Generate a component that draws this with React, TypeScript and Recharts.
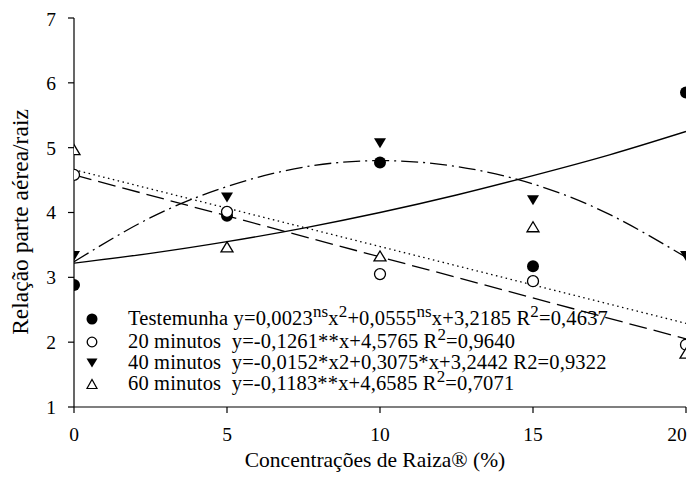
import { ComposedChart, Scatter, Line, XAxis, YAxis, Label } from "recharts";

const doses = [0, 5, 10, 15, 20];
const testemunha = [2.88, 3.95, 4.77, 3.17, 5.85];
const min20 = [4.58, 4.01, 3.05, 2.94, 1.96];
const min40 = [3.33, 4.23, 5.07, 4.19, 3.33];
const min60 = [4.97, 3.47, 3.33, 3.78, 1.83];

// fitted curves
const fitX = [0, 2.5, 5, 7.5, 10, 12.5, 15, 17.5, 20];
const fitTestemunha = [3.22, 3.37, 3.55, 3.76, 4.0, 4.27, 4.57, 4.89, 5.25];
const fit40 = [3.24, 3.92, 4.4, 4.7, 4.8, 4.71, 4.44, 3.97, 3.31];
const fit20X = [0, 20];
const fit20 = [4.58, 2.05];
const fit60X = [0, 20];
const fit60 = [4.66, 2.29];

const xTicks = [0, 5, 10, 15, 20];
const yTicks = [1, 2, 3, 4, 5, 6, 7];

const FONT = "'Liberation Serif', 'Times New Roman', serif";

const pts = (xs: number[], ys: number[]) => xs.map((x, i) => ({ x, y: ys[i] }));

const FilledCircle = (p: any) => <circle cx={p.cx} cy={p.cy} r={6} fill="#000" />;
const OpenCircle = (p: any) => (
  <circle cx={p.cx} cy={p.cy} r={5.5} fill="#fff" stroke="#000" strokeWidth={1.3} />
);
const DownTri = (p: any) => (
  <path d={`M${p.cx - 6},${p.cy - 5}L${p.cx + 6},${p.cy - 5}L${p.cx},${p.cy + 5}Z`} fill="#000" />
);
const UpTri = (p: any) => (
  <path
    d={`M${p.cx - 6},${p.cy + 5}L${p.cx + 6},${p.cy + 5}L${p.cx},${p.cy - 5}Z`}
    fill="#fff"
    stroke="#000"
    strokeWidth={1.3}
  />
);

// last label sits against the page edge in the original
const XTick = (p: any) => {
  const last = p.payload.value === 20;
  return (
    <text
      x={p.x + (last ? -9 : 0)}
      y={p.y}
      dy="0.71em"
      textAnchor="middle"
      fontFamily={FONT}
      fontSize={19.5}
      fill="#000"
    >
      {p.payload.value}
    </text>
  );
};

const sup = {
  fontSize: 17,
  lineHeight: 0,
  verticalAlign: "baseline",
  position: "relative" as const,
  top: -8,
};

function LegendBlock() {
  const rows = [
    {
      mark: <circle cx={7} cy={7} r={5.5} fill="#000" />,
      text: (
        <>
          Testemunha y=0,0023<span style={sup}>ns</span>x<span style={sup}>2</span>+0,0555
          <span style={sup}>ns</span>x+3,2185 R<span style={sup}>2</span>=0,4637
        </>
      ),
    },
    {
      mark: <circle cx={7} cy={7} r={4.8} fill="#fff" stroke="#000" strokeWidth={1.3} />,
      text: (
        <>
          20 minutos&nbsp; y=-0,1261**x+4,5765 R<span style={sup}>2</span>=0,9640
        </>
      ),
    },
    {
      mark: <path d="M1.5,2.5L12.5,2.5L7,11.5Z" fill="#000" />,
      text: <>40 minutos&nbsp; y=-0,0152*x2+0,3075*x+3,2442 R2=0,9322</>,
    },
    {
      mark: <path d="M2,11.5L12,11.5L7,2.5Z" fill="#fff" stroke="#000" strokeWidth={1.2} />,
      text: (
        <>
          60 minutos&nbsp; y=-0,1183**x+4,6585 R<span style={sup}>2</span>=0,7071
        </>
      ),
    },
  ];
  const tops = [300, 323, 344, 365];
  return (
    <>
      {rows.map((r, i) => (
        <div key={i} style={{ position: "absolute", left: 77, top: tops[i], height: 20 }}>
          <svg width={14} height={14} style={{ position: "absolute", left: 0, top: 4 }}>
            {r.mark}
          </svg>
          <div
            style={{
              position: "absolute",
              left: 43,
              top: 0,
              whiteSpace: "nowrap",
              fontFamily: FONT,
              fontSize: 20.5,
              letterSpacing: 0.15,
              lineHeight: "20px",
              color: "#000",
            }}
          >
            {r.text}
          </div>
        </div>
      ))}
    </>
  );
}

export default function App() {
  const tickStyle = { fontFamily: FONT, fontSize: 19.5, fill: "#000" };
  return (
    <div style={{ position: "relative", width: 687, height: 471 }}>
      <ComposedChart
        width={687}
        height={471}
        margin={{ top: 10, right: 9, bottom: 0, left: 0 }}
        style={{ overflow: "visible" }}
      >
        <XAxis
          type="number"
          dataKey="x"
          domain={[0, 20]}
          ticks={xTicks}
          allowDataOverflow
          height={72}
          tick={XTick}
          tickSize={6}
          tickMargin={14}
          stroke="#000"
          axisLine={{ stroke: "#000", strokeWidth: 1.2 }}
          tickLine={{ stroke: "#000", strokeWidth: 1.2 }}
        >
          <Label
            content={() => (
              <text x={367} y={459} textAnchor="middle" fontFamily={FONT} fontSize={21.5} fill="#000">
                Concentrações de Raiza® (%)
              </text>
            )}
          />
        </XAxis>
        <YAxis
          type="number"
          domain={[1, 7]}
          ticks={yTicks}
          allowDataOverflow
          width={66}
          tick={tickStyle}
          tickSize={6}
          tickMargin={12}
          stroke="#000"
          axisLine={{ stroke: "#000", strokeWidth: 1.2 }}
          tickLine={{ stroke: "#000", strokeWidth: 1.2 }}
        >
          <Label
            content={() => (
              <text
                x={20}
                y={214}
                transform="rotate(-90 20 214)"
                textAnchor="middle"
                fontFamily={FONT}
                fontSize={23.5}
                fill="#000"
              >
                Relação parte aérea/raiz
              </text>
            )}
          />
        </YAxis>

        <Line
          data={pts(fitX, fitTestemunha)}
          dataKey="y"
          type="natural"
          stroke="#000"
          strokeWidth={1.3}
          dot={false}
          activeDot={false}
          isAnimationActive={false}
        />
        <Line
          data={pts(fit20X, fit20)}
          dataKey="y"
          type="linear"
          stroke="#000"
          strokeWidth={1.3}
          strokeDasharray="18 7"
          dot={false}
          activeDot={false}
          isAnimationActive={false}
        />
        <Line
          data={pts(fitX, fit40)}
          dataKey="y"
          type="natural"
          stroke="#000"
          strokeWidth={1.3}
          strokeDasharray="17 5 2 5"
          dot={false}
          activeDot={false}
          isAnimationActive={false}
        />
        <Line
          data={pts(fit60X, fit60)}
          dataKey="y"
          type="linear"
          stroke="#000"
          strokeWidth={1.3}
          strokeDasharray="1.5 3.5"
          dot={false}
          activeDot={false}
          isAnimationActive={false}
        />

        <Scatter data={pts(doses, testemunha)} dataKey="y" shape={FilledCircle} isAnimationActive={false} />
        <Scatter data={pts(doses, min20)} dataKey="y" shape={OpenCircle} isAnimationActive={false} />
        <Scatter data={pts(doses, min40)} dataKey="y" shape={DownTri} isAnimationActive={false} />
        <Scatter data={pts(doses, min60)} dataKey="y" shape={UpTri} isAnimationActive={false} />
      </ComposedChart>
      <LegendBlock />
    </div>
  );
}
